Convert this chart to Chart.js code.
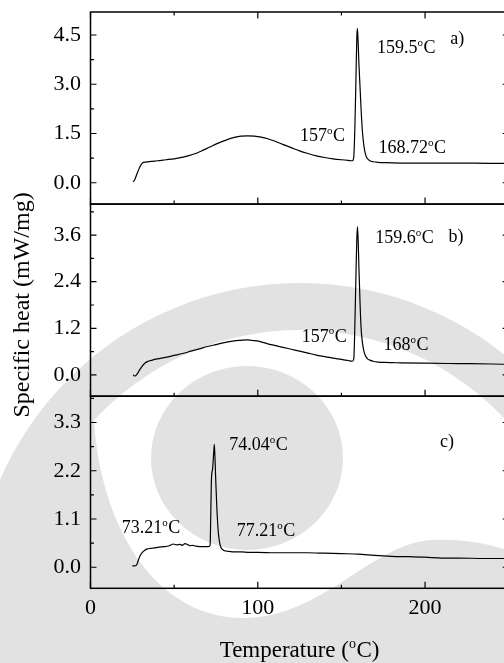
<!DOCTYPE html>
<html>
<head>
<meta charset="utf-8">
<script src="https://cdn.jsdelivr.net/npm/chart.js@4.4.1/dist/chart.umd.min.js"></script>
<style>
  html, body { margin: 0; padding: 0; background: #fff; overflow: hidden; }
  #wrap { width: 504px; height: 663px; overflow: hidden; position: relative; }
  canvas { display: block; }
</style>
</head>
<body>
<div id="wrap"><canvas id="dsc" width="512" height="663"></canvas></div>
<script>
// DSC heating traces: temperature (°C) against specific heat (mW/mg)

// a)
const T_A = [25.5, 26.5, 28, 29.5, 31, 33, 36, 40, 45, 50, 56, 61, 66, 71, 76, 81, 86, 90, 94, 98,
  102, 106, 110, 115, 120, 125, 130, 135, 140, 145, 150, 154, 156.5, 157.3, 158, 158.7, 159.2, 159.5,
  159.9, 160.4, 161, 161.7, 162.5, 163.5, 164.5, 165.5, 167, 169, 172, 176, 185, 200, 220, 240, 250];
const Y_A = [0.03, 0.1, 0.3, 0.48, 0.6, 0.63, 0.65, 0.67, 0.7, 0.73, 0.79, 0.86, 0.96, 1.08, 1.2, 1.3, 1.38, 1.42, 1.43, 1.42,
  1.39, 1.34, 1.27, 1.17, 1.07, 0.97, 0.89, 0.82, 0.77, 0.73, 0.70, 0.68, 0.67, 0.75, 1.6, 3.2, 4.4, 4.7,
  4.4, 3.7, 3.05, 2.3, 1.6, 1.1, 0.85, 0.74, 0.67, 0.64, 0.62, 0.61, 0.6, 0.6, 0.6, 0.59, 0.59];

// b)
const T_B = [25.5, 26.5, 27.5, 29, 30.5, 32, 34, 37, 40, 45, 50, 55, 60, 65, 70, 75, 80, 85, 90, 94,
  98, 102, 106, 110, 115, 120, 125, 130, 135, 140, 145, 150, 154, 156.5, 157.4, 158, 158.7, 159.2, 159.6,
  160, 160.5, 161.1, 161.7, 162.5, 163.5, 164.5, 165.5, 167, 169, 172, 176, 185, 200, 220, 240, 250];
const Y_B = [0.0, -0.03, 0.0, 0.1, 0.2, 0.28, 0.34, 0.38, 0.41, 0.45, 0.5, 0.55, 0.61, 0.67, 0.73, 0.78, 0.83, 0.87, 0.89, 0.9,
  0.88, 0.85, 0.8, 0.76, 0.71, 0.66, 0.61, 0.56, 0.51, 0.47, 0.43, 0.4, 0.37, 0.35, 0.42, 1.2, 2.6, 3.5, 3.82,
  3.5, 2.7, 1.9, 1.25, 0.85, 0.6, 0.48, 0.42, 0.38, 0.35, 0.33, 0.32, 0.31, 0.3, 0.29, 0.28, 0.27];

// c)
const T_C = [25, 26, 27.5, 28.5, 29.5, 31, 32.5, 34, 36, 38, 41, 44, 47, 49.5, 51.5, 53.5, 55, 56.5, 58, 59.5,
  61, 63, 65, 67, 69, 70.5, 71.5, 71.9, 72.3, 73, 73.7, 74.04, 74.5, 75, 75.6, 76.3, 77, 78, 79.5, 81,
  83, 86, 90, 95, 100, 110, 120, 130, 140, 150, 160, 170, 180, 190, 200, 210, 220, 235, 250];
const Y_C = [0.03, 0.03, 0.05, 0.15, 0.25, 0.34, 0.39, 0.42, 0.43, 0.44, 0.46, 0.47, 0.49, 0.53, 0.51, 0.52, 0.5, 0.54, 0.52, 0.49,
  0.5, 0.48, 0.47, 0.47, 0.47, 0.47, 0.5, 1.2, 2.0, 2.25, 2.65, 2.8, 2.4, 1.85, 1.3, 0.85, 0.6, 0.45, 0.39, 0.37,
  0.36, 0.35, 0.35, 0.34, 0.34, 0.33, 0.33, 0.33, 0.32, 0.31, 0.3, 0.27, 0.25, 0.24, 0.23, 0.21, 0.21, 0.2, 0.2];

// axis ticks
const X_MAJOR = [0, 100, 200];
const X_MINOR = [50, 150, 250];
const A_MAJOR = [0, 1.5, 3.0, 4.5];
const A_MINOR = [0.75, 2.25, 3.75];
const B_MAJOR = [0, 1.2, 2.4, 3.6];
const B_MINOR = [0.6, 1.8, 3.0, 4.2];
const C_MAJOR = [0, 1.1, 2.2, 3.3];
const C_MINOR = [0.55, 1.65, 2.75, 3.85];

// peak / onset notes, anchored in data units of each panel
const NOTES_A = [
  { t: 171.2, v: 4.14, text: '159.5°C' },
  { t: 125.3, v: 1.44, text: '157°C' },
  { t: 172.1, v: 1.08, text: '168.72°C' },
  { t: 215.0, v: 4.42, text: 'a)' }
];
const NOTES_B = [
  { t: 170.2, v: 3.54, text: '159.6°C' },
  { t: 126.3, v: 1.01, text: '157°C' },
  { t: 175.1, v: 0.80, text: '168°C' },
  { t: 214.0, v: 3.58, text: 'b)' }
];
const NOTES_C = [
  { t: 18.7, v: 0.91, text: '73.21°C' },
  { t: 83.0, v: 2.80, text: '74.04°C' },
  { t: 87.4, v: 0.84, text: '77.21°C' },
  { t: 209.0, v: 2.87, text: 'c)' }
];

const SERIF = '"Liberation Serif", "Times New Roman", serif';
const SHADE = '#e2e2e2';

const PANELS = [
  { id: 'ya', major: A_MAJOR, minor: A_MINOR, notes: NOTES_A },
  { id: 'yb', major: B_MAJOR, minor: B_MINOR, notes: NOTES_B },
  { id: 'yc', major: C_MAJOR, minor: C_MINOR, notes: NOTES_C }
];

const pts = (xs, ys) => xs.map((x, i) => ({ x, y: ys[i] }));

// text with the degree mark set as a raised small "o"
function degText(ctx, text, x, y, size, align) {
  const parts = text.split('°');
  const big = `${size}px ${SERIF}`;
  const small = `${Math.round(size * 0.62)}px ${SERIF}`;
  ctx.font = big;
  const w0 = ctx.measureText(parts[0]).width;
  let w1 = 0, w2 = 0;
  if (parts.length > 1) {
    ctx.font = small;
    w1 = ctx.measureText('o').width + 0.5;
    ctx.font = big;
    w2 = ctx.measureText(parts[1]).width;
  }
  const total = w0 + w1 + w2;
  const x0 = align === 'center' ? x - total / 2 : x;
  ctx.textAlign = 'left';
  ctx.textBaseline = 'alphabetic';
  ctx.font = big;
  ctx.fillText(parts[0], x0, y);
  if (parts.length > 1) {
    ctx.font = small;
    ctx.fillText('o', x0 + w0, y - size * 0.4);
    ctx.font = big;
    ctx.fillText(parts[1], x0 + w0 + w1, y);
  }
}

// faint page emblem behind the figure
const emblemPlugin = {
  id: 'emblem',
  beforeDraw(chart) {
    const ctx = chart.ctx;
    ctx.save();
    ctx.fillStyle = '#fff';
    ctx.fillRect(0, 0, chart.width, chart.height);
    const cx = 300, cy = 610;
    ctx.fillStyle = SHADE;
    ctx.beginPath(); ctx.arc(cx, cy, 327, 0, Math.PI * 2); ctx.fill();
    // clear the inner field above the wave
    ctx.save();
    ctx.beginPath(); ctx.arc(cx, cy, 280, 0, Math.PI * 2); ctx.clip();
    ctx.beginPath();
    ctx.moveTo(0, 300);
    ctx.lineTo(0, 420);
    ctx.lineTo(94, 420);
    ctx.bezierCurveTo(100, 520, 150, 615, 240, 618);
    ctx.bezierCurveTo(320, 620, 370, 545, 430, 540);
    ctx.bezierCurveTo(470, 538, 495, 545, 520, 555);
    ctx.lineTo(520, 300);
    ctx.closePath();
    ctx.fillStyle = '#fff';
    ctx.fill();
    ctx.restore();
    // inner disc
    ctx.fillStyle = SHADE;
    ctx.beginPath(); ctx.ellipse(247, 458, 96, 92, 0, 0, Math.PI * 2); ctx.fill();
    ctx.restore();
  }
};

const framePlugin = {
  id: 'frameAndNotes',
  afterDatasetsDraw(chart) {
    const { ctx, chartArea: ca, scales } = chart;
    const sx = scales.x;
    ctx.save();
    ctx.strokeStyle = '#000';
    ctx.fillStyle = '#000';
    PANELS.forEach((p, i) => {
      const s = scales[p.id];
      // panel box
      ctx.lineWidth = 1.5;
      ctx.strokeRect(ca.left, s.top, ca.right - ca.left, s.bottom - s.top);
      ctx.lineWidth = 1.2;
      ctx.beginPath();
      const yTick = (v, len) => {
        const y = s.getPixelForValue(v);
        ctx.moveTo(ca.left, y); ctx.lineTo(ca.left + len, y);
        ctx.moveTo(ca.right, y); ctx.lineTo(ca.right - len, y);
      };
      p.major.forEach(v => yTick(v, 6));
      p.minor.forEach(v => yTick(v, 3.5));
      const xTick = (v, len) => {
        const x = sx.getPixelForValue(v);
        ctx.moveTo(x, s.bottom); ctx.lineTo(x, s.bottom - len);
        if (i === 0) { ctx.moveTo(x, s.top); ctx.lineTo(x, s.top + len); }
      };
      X_MAJOR.forEach(v => xTick(v, 6.5));
      X_MINOR.forEach(v => xTick(v, 3.5));
      ctx.stroke();
      // notes
      p.notes.forEach(n => {
        degText(ctx, n.text, sx.getPixelForValue(n.t), s.getPixelForValue(n.v) + 6, 18, 'left');
      });
    });
    // axis titles
    degText(ctx, 'Temperature (°C)', (ca.left + ca.right) / 2, 657, 23, 'center');
    ctx.save();
    ctx.translate(29, 305);
    ctx.rotate(-Math.PI / 2);
    ctx.font = `24px ${SERIF}`;
    ctx.textAlign = 'center';
    ctx.textBaseline = 'alphabetic';
    ctx.fillText('Specific heat (mW/mg)', 0, 0);
    ctx.restore();
    ctx.restore();
  }
};

function yScale(major, min, max) {
  return {
    type: 'linear',
    position: 'left',
    stack: 'panels',
    stackWeight: 1,
    min, max,
    grid: { display: false, drawTicks: false },
    border: { display: false },
    afterBuildTicks: s => { s.ticks = major.map(v => ({ value: v })); },
    afterFit: s => { s.width = 90.5; s.paddingTop = 0; s.paddingBottom = 0; },
    ticks: {
      color: '#000',
      padding: 9.5,
      font: { family: SERIF, size: 22 },
      callback: v => Number(v).toFixed(1)
    }
  };
}

const line = (data, axis) => ({
  data, yAxisID: axis, xAxisID: 'x',
  borderColor: '#000', borderWidth: 1.2, pointRadius: 0,
  cubicInterpolationMode: 'monotone', fill: false
});

new Chart(document.getElementById('dsc'), {
  type: 'line',
  data: {
    datasets: [
      line(pts(T_A, Y_A), 'ya'),
      line(pts(T_B, Y_B), 'yb'),
      line(pts(T_C, Y_C), 'yc')
    ]
  },
  options: {
    responsive: false,
    animation: false,
    devicePixelRatio: 1,
    layout: { autoPadding: false, padding: { top: 12, right: 3.3, left: 0, bottom: 0 } },
    plugins: { legend: { display: false }, tooltip: { enabled: false } },
    scales: {
      x: {
        type: 'linear',
        position: 'bottom',
        min: 0, max: 250,
        grid: { display: false, drawTicks: false },
        border: { display: false },
        afterBuildTicks: s => { s.ticks = X_MAJOR.map(v => ({ value: v })); },
        afterFit: s => { s.height = 74.7; s.paddingLeft = 0; s.paddingRight = 0; },
        ticks: { color: '#000', padding: 7, maxRotation: 0, font: { family: SERIF, size: 22 } }
      },
      // declared bottom-up: the last one in a stack is laid out on top
      yc: yScale(C_MAJOR, -0.48, 3.9),
      yb: yScale(B_MAJOR, -0.55, 4.4),
      ya: yScale(A_MAJOR, -0.65, 5.2)
    }
  },
  plugins: [emblemPlugin, framePlugin]
});
</script>
</body>
</html>
